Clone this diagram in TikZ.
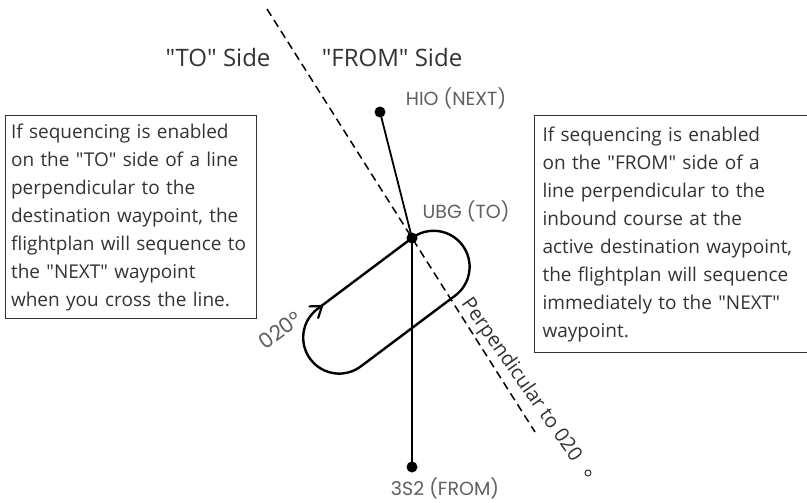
\documentclass[tikz,border=0pt]{standalone}
\usepackage{fontspec}
\setmainfont{Open Sans}
\newfontfamily\boxfont{Open Sans}
\newfontfamily\labelfont{Poppins}
\usetikzlibrary{arrows.meta}
\definecolor{txt}{HTML}{333333}
\definecolor{lbl}{HTML}{606060}
\begin{document}
\begin{tikzpicture}[x=1pt,y=-1pt,
  box/.style={draw=black!80, line width=1.1pt, anchor=north west, align=left,
    inner xsep=5.5pt, inner ysep=0pt, text=txt, font=\boxfont\fontsize{19}{28}\selectfont},
  dot/.style={circle, fill=black, minimum size=11pt, inner sep=0pt},
  course/.style={line width=1.8pt, black},
  perp/.style={line width=1.5pt, black, dash pattern=on 8pt off 5pt},
  hold/.style={line width=2.4pt, black, rounded corners=36pt},
  barb/.style={line width=2.2pt, black, line cap=round, line join=round},
  wpt/.style={font=\labelfont\fontsize{19}{21}\selectfont, text=lbl},
  side/.style={font=\boxfont\fontsize{24}{26}\selectfont, text=txt}]
\fill[white] (0,0) rectangle (807,503);
\useasboundingbox (0,0) rectangle (807,503);

% boxes
\node[box, text width=240pt, minimum height=203pt] (leftbox) at (5,115)
 {If sequencing is enabled\\
  on the "TO" side of a line\\
  perpendicular to the\\
  destination waypoint, the\\
  flightplan will sequence to\\
  the "NEXT" waypoint\\
  when you cross the line.};
\node[box, inner xsep=8pt, text width=268pt, minimum height=237pt] (rightbox) at (534,115)
 {If sequencing is enabled\\
  on the "FROM" side of a\\
  line perpendicular to the\\
  inbound course at the\\
  active destination waypoint,\\
  the flightplan will sequence\\
  immediately to the "NEXT"\\
  waypoint.};

% waypoints
\node[dot] (hio) at (380,112) {};
\node[dot] (ubg) at (412,238) {};
\node[dot] (s32) at (412,467) {};
\coordinate (dtop) at (267,9);
\coordinate (dbot) at (535,432);

% perpendicular line
\draw[perp] (dtop) -- (ubg.center) -- (dbot);

% course lines
\draw[course] (hio.center) -- (ubg.center);
\draw[course] (ubg.center) -- (s32.center);

% holding pattern
\draw[hold] (364.8,273.4) -- (440.8,216.4) -- (484.0,274.0) -- (332.0,388.0) -- (288.8,330.4) -- cycle;
\coordinate (tip) at (322,306);
\coordinate (barbA) at (309.5,306.4);
\coordinate (barbB) at (318.2,318);
\draw[barb] (barbA) -- (tip) -- (barbB);

% labels
\node[wpt] (hiolbl) at (456,98) {HIO (NEXT)};
\node[wpt] (ubglbl) at (466,211) {UBG (TO)};
\node[wpt] (s32lbl) at (445,488) {3S2 (FROM)};
\node[side] (toside) at (218,58) {"TO" Side};
\node[side] (fromside) at (392,58) {"FROM" Side};
\node[font=\boxfont\fontsize{20}{22}\selectfont, text=txt, rotate=-55] (perplbl) at (521,380) {Perpendicular to 020};
\node[circle, draw=black!80, line width=1pt, minimum size=6pt, inner sep=0pt] (degdot) at (588,473) {};
\node[wpt, font=\labelfont\fontsize{21}{22}\selectfont, rotate=36] (crslbl) at (280,330) {020°};
\end{tikzpicture}
\end{document}
